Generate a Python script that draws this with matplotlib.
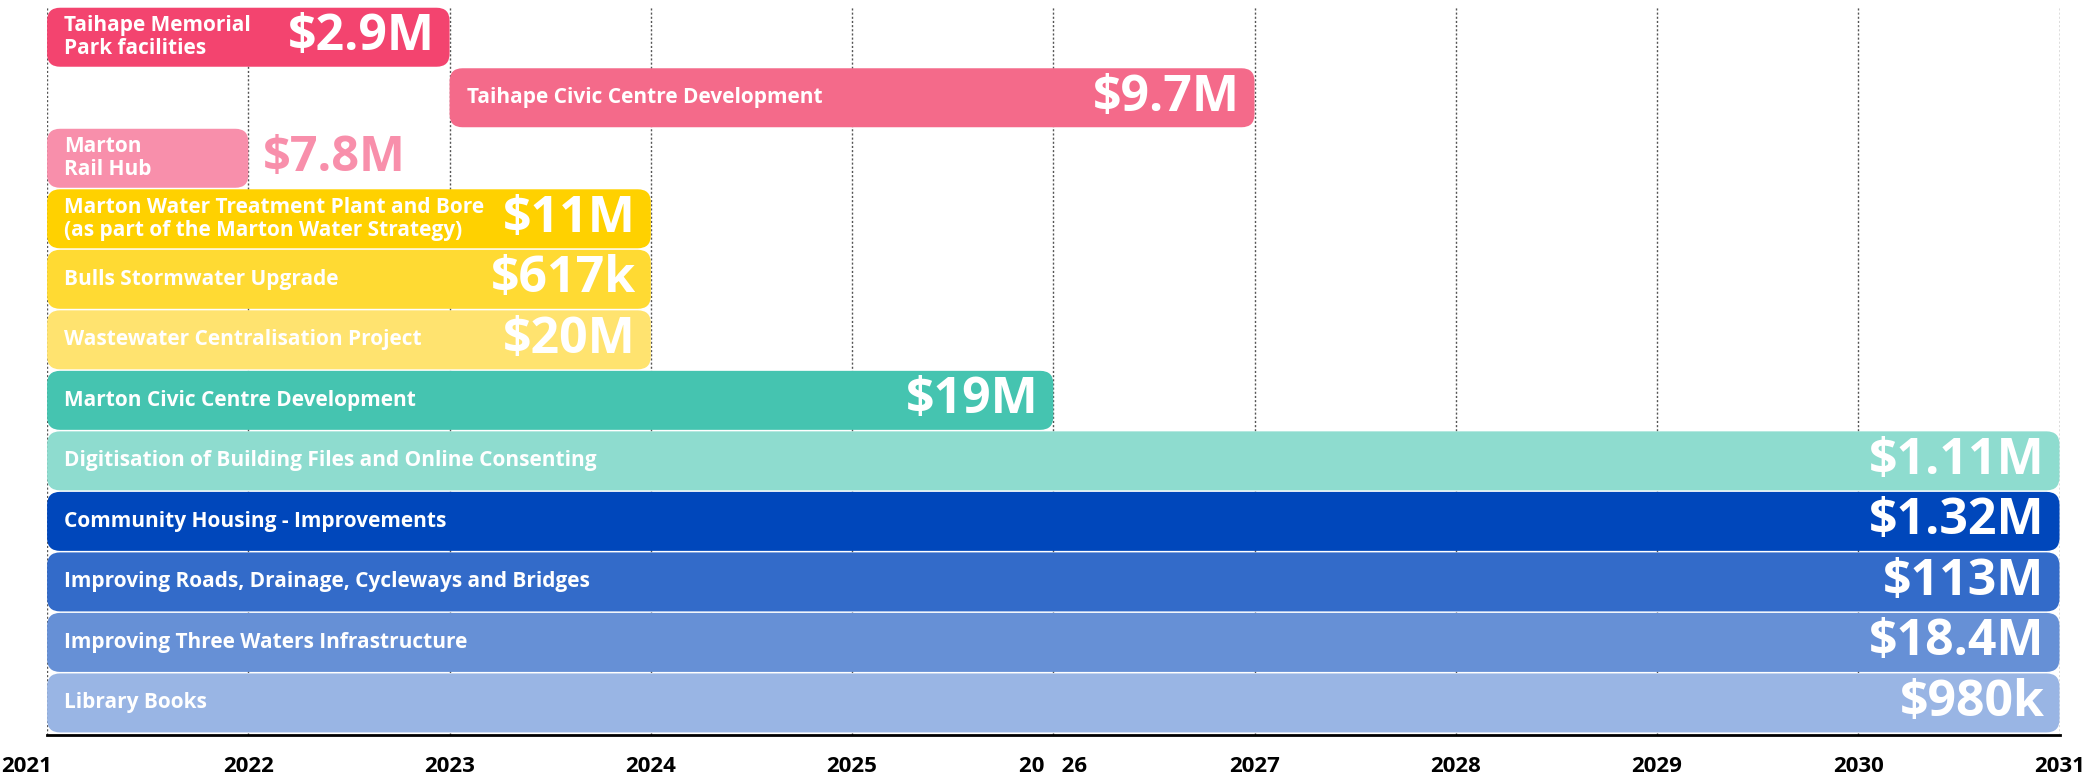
import numpy as np
import matplotlib
matplotlib.use('Agg')
import matplotlib.pyplot as plt
from matplotlib.patches import FancyBboxPatch
from matplotlib import transforms

plt.rcParams['font.family'] = ['Open Sans', 'DejaVu Sans']

# projects, top to bottom
projects = ['Taihape Memorial\nPark facilities',
            'Taihape Civic Centre Development',
            'Marton\nRail Hub',
            'Marton Water Treatment Plant and Bore\n(as part of the Marton Water Strategy)',
            'Bulls Stormwater Upgrade',
            'Wastewater Centralisation Project',
            'Marton Civic Centre Development',
            'Digitisation of Building Files and Online Consenting',
            'Community Housing - Improvements',
            'Improving Roads, Drainage, Cycleways and Bridges',
            'Improving Three Waters Infrastructure',
            'Library Books']
start_year = [2021, 2023, 2021, 2021, 2021, 2021, 2021, 2021, 2021, 2021, 2021, 2021]
end_year = [2023, 2027, 2022, 2024, 2024, 2024, 2026, 2031, 2031, 2031, 2031, 2031]
cost = ['$2.9M', '$9.7M', '$7.8M', '$11M', '$617k', '$20M', '$19M',
        '$1.11M', '$1.32M', '$113M', '$18.4M', '$980k']
colors = ['#F3446F', '#F46A8A', '#F88FAB', '#FFD100', '#FFDA33', '#FFE36F',
          '#45C4B0', '#8EDCCF', '#0047BB', '#336BC9', '#6690D6', '#99B5E4']
cost_outside = [False, False, True, False, False, False, False,
                False, False, False, False, False]

years = list(range(2021, 2032))
year_labels = [str(y) for y in years]
year_labels[5] = '20   26'

fig = plt.figure(figsize=(20.93, 7.75), dpi=100)
ax = fig.add_axes([0.0225, 0.0516, 0.9615, 0.9394])
ax.set_xlim(2021, 2031)
ax.set_ylim(11.53, -0.5)

# px per data unit for rounding corners
x_px = 0.9615 * 2093 / 10
y_px = 0.9394 * 775 / 12.03
aspect = x_px / y_px
rad = 13 / x_px

for yr in years:
    ax.axvline(yr, color='#555555', lw=1, ls=(0, (1.5, 1.5)), zorder=0)

h = 0.975
for i in range(len(projects)):
    x0 = start_year[i]
    w = end_year[i] - start_year[i]
    box = FancyBboxPatch((x0, i - h / 2), w, h,
                         boxstyle='round,pad=0,rounding_size=%f' % rad,
                         mutation_aspect=aspect,
                         fc=colors[i], ec='none', zorder=2)
    ax.add_patch(box)
    off_l = transforms.offset_copy(ax.transData, fig=fig, x=17, y=0, units='dots')
    ax.text(x0, i, projects[i], transform=off_l, ha='left', va='center',
            color='white', fontsize=15, fontweight='bold', linespacing=1.15, zorder=3)
    if cost_outside[i]:
        off_r = transforms.offset_copy(ax.transData, fig=fig, x=15, y=0, units='dots')
        ax.text(end_year[i], i, cost[i], transform=off_r, ha='left', va='center',
                color=colors[i], fontsize=35, fontweight='bold', zorder=3)
    else:
        off_r = transforms.offset_copy(ax.transData, fig=fig, x=-15, y=0, units='dots')
        ax.text(end_year[i], i, cost[i], transform=off_r, ha='right', va='center',
                color='white', fontsize=36, fontweight='bold', zorder=3)

for s in ['top', 'right', 'left']:
    ax.spines[s].set_visible(False)
ax.spines['bottom'].set_linewidth(2)
ax.spines['bottom'].set_color('black')
ax.set_yticks([])
ax.set_xticks(years)
ax.set_xticklabels(year_labels, fontsize=16, fontweight='bold', color='black')
ax.tick_params(axis='x', length=0, pad=15)
ax.set_xticks([2021, 2031], minor=True)
ax.tick_params(axis='x', which='minor', length=10, width=1, direction='inout')
lab0 = ax.get_xticklabels()[0]
lab0.set_transform(lab0.get_transform() + transforms.ScaledTranslation(-20 / 100, 0, fig.dpi_scale_trans))

fig.savefig('out.png', dpi=100)
